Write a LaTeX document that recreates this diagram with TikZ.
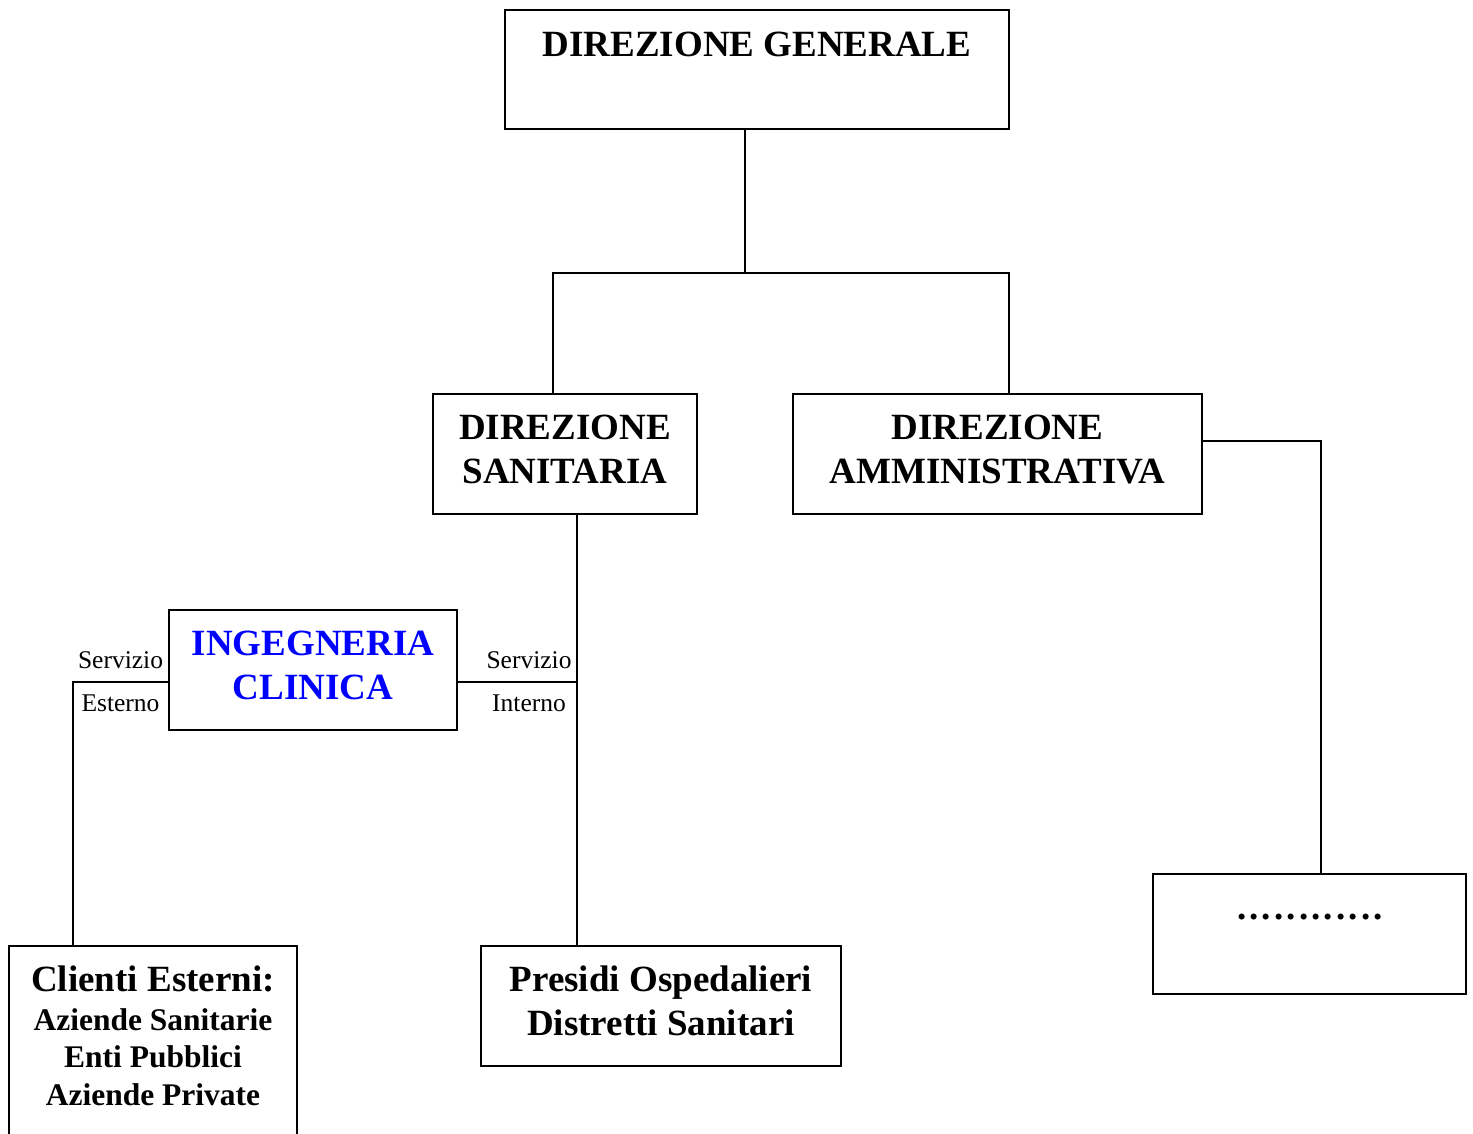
\documentclass[tikz,border=0pt]{standalone}
\usepackage{fontspec}
\setmainfont{Liberation Serif}
\definecolor{icblue}{RGB}{0,0,255}
\tikzset{
  box/.style={draw=black, line width=1.6pt, rectangle, inner sep=0pt},
  wire/.style={draw=black, line width=1.6pt},
  big/.style={font=\fontsize{37}{44}\selectfont\bfseries, inner sep=0pt, anchor=base},
  mid/.style={font=\fontsize{31.5}{38}\selectfont\bfseries, inner sep=0pt, anchor=base},
  small/.style={font=\fontsize{25.5}{30}\selectfont, inner sep=0pt, anchor=base},
}
\begin{document}
\begin{tikzpicture}[x=1pt,y=-1pt]
\clip (0,0) rectangle (1473,1133);
\useasboundingbox (0,0) rectangle (1473,1133);
% boxes
\node[box, minimum width=504pt, minimum height=119pt] (dg) at (757,69.5) {};
\node[box, minimum width=264pt, minimum height=120pt] (ds) at (565,454) {};
\node[box, minimum width=409pt, minimum height=120pt] (da) at (997.5,454) {};
\node[box, minimum width=288pt, minimum height=120pt] (ic) at (313,670) {};
\node[box, minimum width=288pt, minimum height=220pt] (ce) at (153,1056) {};
\node[box, minimum width=360pt, minimum height=120pt] (po) at (661,1006) {};
\node[box, minimum width=313pt, minimum height=120pt] (dots) at (1309.5,934) {};
% texts
\node[big] (tdg) at (757,56) {DIREZIONE GENERALE};
\node[big] (tds1) at (565,439) {DIREZIONE};
\node[big] (tds2) at (565,483) {SANITARIA};
\node[big] (tda1) at (997.5,439) {DIREZIONE};
\node[big] (tda2) at (997.5,483) {AMMINISTRATIVA};
\node[big, text=icblue] (tic1) at (313,655) {INGEGNERIA};
\node[big, text=icblue] (tic2) at (313,699) {CLINICA};
\node[big] (tce1) at (153,991) {Clienti Esterni:};
\node[mid] (tce2) at (153,1030) {Aziende Sanitarie};
\node[mid] (tce3) at (153,1067) {Enti Pubblici};
\node[mid] (tce4) at (153,1105) {Aziende Private};
\node[big] (tpo1) at (661,991) {Presidi Ospedalieri};
\node[big] (tpo2) at (661,1035) {Distretti Sanitari};
\node[big] (tdots) at (1310,919) {\makebox[12.4pt]{.}\makebox[12.4pt]{.}\makebox[12.4pt]{.}\makebox[12.4pt]{.}\makebox[12.4pt]{.}\makebox[12.4pt]{.}\makebox[12.4pt]{.}\makebox[12.4pt]{.}\makebox[12.4pt]{.}\makebox[12.4pt]{.}\makebox[12.4pt]{.}\makebox[12.4pt]{.}};
\node[small] (se1) at (120.5,668) {Servizio};
\node[small] (se2) at (120.5,711) {Esterno};
\node[small] (si1) at (529,668) {Servizio};
\node[small] (si2) at (529,711) {Interno};
% connectors
\coordinate (split) at (745,273);
\draw[wire] (dg.south -| split) -- (split);
\draw[wire] (ds.north -| 553,0) |- (split) -| (da.north -| 1009,0);
\draw[wire] (da.east |- 0,441) -| (dots.north -| 1321,0);
\draw[wire] (ds.south -| 577,0) -- (po.north -| 577,0);
\draw[wire] (ic.east |- 0,682) -- (577,682);
\draw[wire] (ic.west |- 0,682) -| (ce.north -| 73,0);
\end{tikzpicture}
\end{document}
